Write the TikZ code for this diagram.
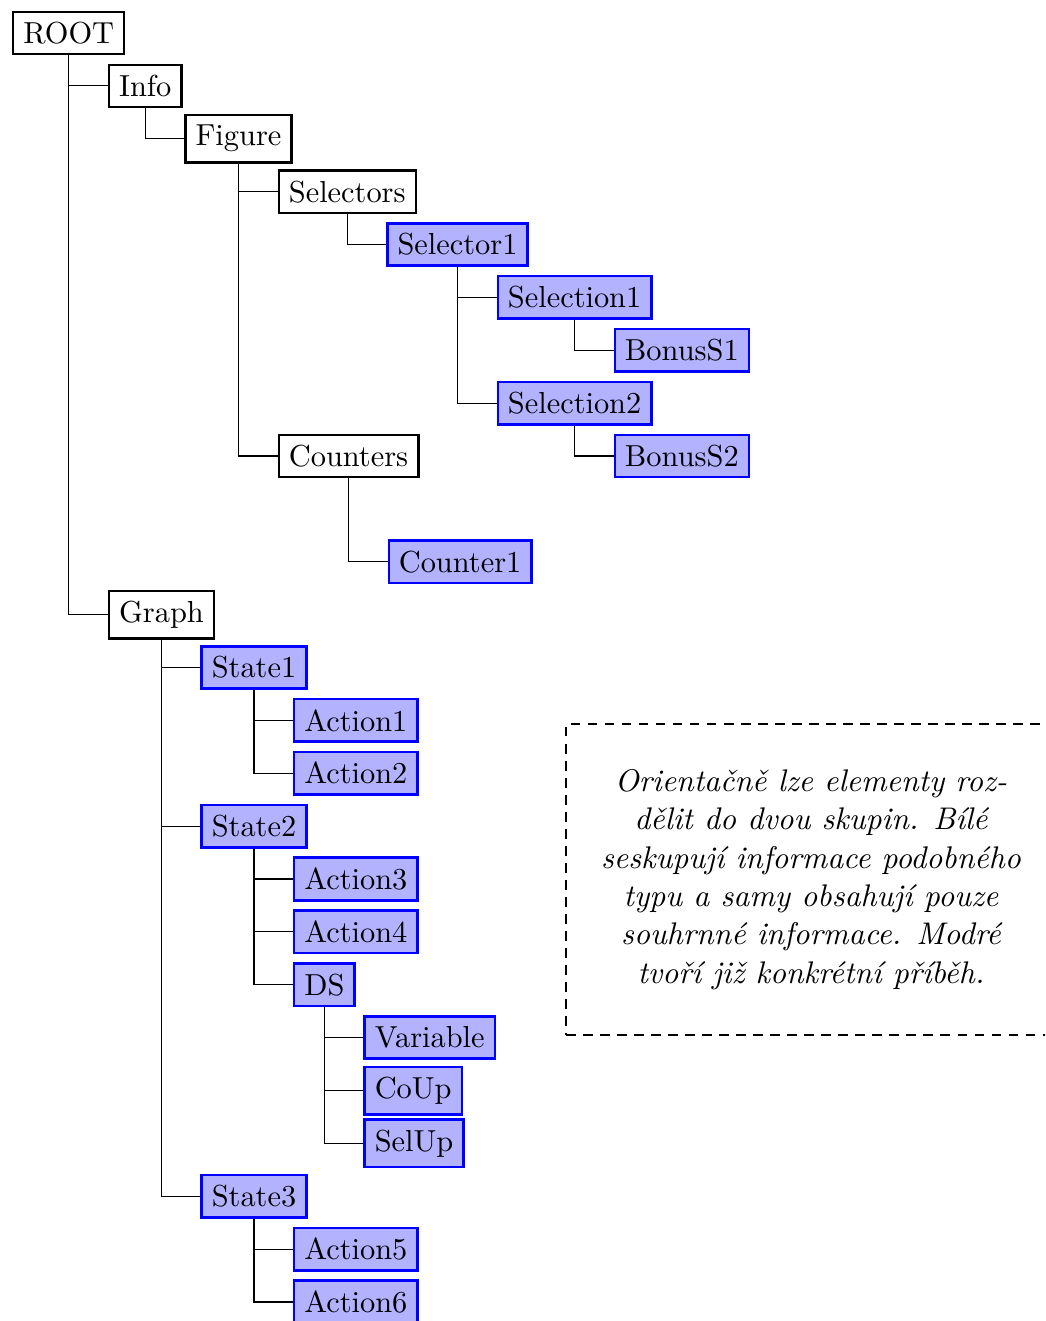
\documentclass[tikz,border=0pt]{standalone}
\usetikzlibrary{calc}

\tikzset{
  x=0.329pt, y=-0.329pt,
  treebox/.style={thick, anchor=west},
  plainbox/.style={treebox, draw=black, fill=white},
  storybox/.style={treebox, draw=blue, fill=blue!30},
  conn/.style={draw=black, line width=0.4pt},
  notebox/.style={draw=black, thick, dash pattern=on 3.2pt off 2.4pt,
    minimum width=161.2pt, minimum height=102.3pt, align=center,
    font=\fontsize{10.3}{12.6}\selectfont\itshape},
}

% child node: name, parent, row y, style, label
\newcommand\branch[5]{%
  \path (#2.south) ++(39,0) coordinate (#1-at);
  \node[#4] (#1) at (#1-at |- 0,#3) {#5};
  \draw[conn] (#2.south) |- (#1.west);
}

\begin{document}
\begin{tikzpicture}
  \useasboundingbox (0,0) rectangle (1045,1321);
  \clip (0,0) rectangle (1045,1321);

  \node[plainbox] (root) at (12,33) {ROOT};

  \branch{info}{root}{85.875}{plainbox}{Info}
  \branch{figure}{info}{138.75}{plainbox}{Figure}
  \branch{selectors}{figure}{191.625}{plainbox}{Selectors}
  \branch{selectorA}{selectors}{244.5}{storybox}{Selector1}
  \branch{selectionA}{selectorA}{297.375}{storybox}{Selection1}
  \branch{bonusA}{selectionA}{350.25}{storybox}{BonusS1}
  \branch{selectionB}{selectorA}{403.125}{storybox}{Selection2}
  \branch{bonusB}{selectionB}{456}{storybox}{BonusS2}
  \branch{counters}{figure}{456}{plainbox}{Counters}
  \branch{counterA}{counters}{561.75}{storybox}{Counter1}

  \branch{graph}{root}{614.625}{plainbox}{Graph}
  \branch{stateA}{graph}{667.5}{storybox}{State1}
  \branch{actionA}{stateA}{720.375}{storybox}{Action1}
  \branch{actionB}{stateA}{773.25}{storybox}{Action2}
  \branch{stateB}{graph}{826.125}{storybox}{State2}
  \branch{actionC}{stateB}{879}{storybox}{Action3}
  \branch{actionD}{stateB}{931.875}{storybox}{Action4}
  \branch{ds}{stateB}{984.75}{storybox}{DS}
  \branch{variable}{ds}{1037.625}{storybox}{Variable}
  \branch{coup}{ds}{1090.5}{storybox}{CoUp}
  \branch{selup}{ds}{1143.375}{storybox}{SelUp}
  \branch{stateC}{graph}{1196.25}{storybox}{State3}
  \branch{actionE}{stateC}{1249.125}{storybox}{Action5}
  \branch{actionF}{stateC}{1302}{storybox}{Action6}

  \node[notebox] (note) at (811,879.5) {%
    Orientačně lze elementy roz-\\
    dělit do dvou skupin. Bílé\\
    seskupují informace podobného\\
    typu a samy obsahují pouze\\
    souhrnné informace. Modré\\
    tvoří již konkrétní příběh.};
\end{tikzpicture}
\end{document}
